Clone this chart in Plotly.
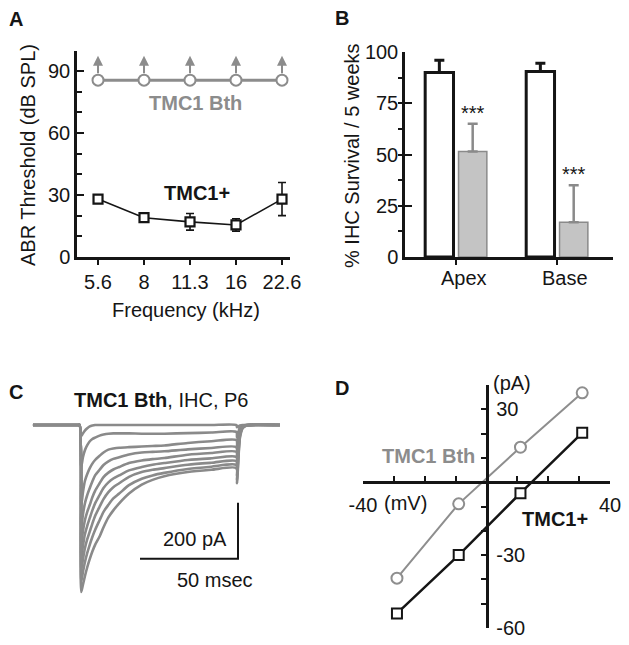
import plotly.graph_objects as go

W, H = 629, 645
FONT = "Liberation Sans, Arial, Helvetica, sans-serif"
GRAY = "#8c8c8c"
BLACK = "#151515"
FS = 20

# ---------------- data ----------------
# Panel A : ABR thresholds
freq_labels = ["5.6", "8", "11.3", "16", "22.6"]
tmc1_plus_thr = [28, 19, 17, 15.5, 28]
tmc1_plus_err = [2, 1, 4, 3, 8]
tmc1_bth_thr = [85.5, 85.5, 85.5, 85.5, 85.5]

# Panel B : IHC survival
regions = ["Apex", "Base"]
surv_plus = [90, 90.5]
surv_plus_err = [6, 4]
surv_bth = [51.5, 17]
surv_bth_err = [13.5, 18]
signif = ["***", "***"]

# Panel C : current traces (pA) sampled at these times (ms)
trace_t_ms = [-24, -1, -0.2, 0.6, 1.5, 2.5, 3.7, 5, 6.3, 7.7, 10, 12, 14.5, 17, 20,
              25, 31.5, 37, 43, 55, 67, 79.8, 80.1, 81.6, 83, 85, 102]
trace_1 = [0, 0, 0, -40, -30, -20, -12, -5, -2, 0, 0, 0, 0, 0, 0,
           0, 0, 0, 0, 0, 0, 0, -8, -2, 0, 0, 0]
trace_2 = [0, 0, 0, -150, -115, -90, -72, -58, -50, -45, -38, -34, -31, -30, -30,
           -30, -31, -31, -31, -29, -27, -25, -45, -8, -2, 0, 0]
trace_3 = [0, 0, 0, -290, -240, -200, -175, -154, -138, -125, -110, -98, -88, -84, -81,
           -79, -77, -75, -73, -64, -58, -54, -85, -14, -4, 0, 0]
trace_4 = [0, 0, 0, -370, -320, -280, -250, -225, -202, -180, -160, -143, -130, -121, -115,
           -105, -98, -96, -94, -87, -82, -79, -115, -20, -5, 0, 0]
trace_5 = [0, 0, 0, -430, -380, -340, -310, -285, -258, -235, -208, -186, -170, -159, -150,
           -136, -127, -122, -118, -106, -100, -96, -140, -25, -6, -1, 0]
trace_6 = [0, 0, 0, -480, -432, -390, -360, -332, -305, -280, -250, -225, -205, -191, -180,
           -162, -150, -142, -136, -125, -119, -114, -160, -30, -8, -1, 0]
trace_7 = [0, 0, 0, -520, -480, -440, -408, -380, -352, -325, -292, -265, -240, -222, -208,
           -185, -168, -160, -154, -142, -135, -129, -180, -35, -9, -1, 0]
trace_8 = [0, 0, 0, -560, -525, -490, -457, -427, -400, -375, -340, -310, -285, -262, -245,
           -215, -192, -180, -171, -157, -149, -143, -195, -40, -10, -2, 0]
trace_9 = [0, 0, 0, -596, -570, -540, -508, -478, -452, -428, -398, -365, -330, -305, -280,
           -245, -213, -196, -183, -168, -160, -154, -208, -46, -12, -2, 0]
current_traces = [trace_1, trace_2, trace_3, trace_4, trace_5, trace_6, trace_7, trace_8, trace_9]
scale_ms = 50
scale_pA = 200

# Panel D : I-V relations
iv_mv = [-29, -9, 11, 31]
iv_bth_pA = [-39.5, -8.9, 14.4, 36.8]
iv_plus_pA = [-54, -30, -4.5, 20.3]


# ---------------- helpers ----------------
def dom_x(left, right):
    return [left / W, right / W]


def dom_y(top, bottom):
    return [1 - bottom / H, 1 - top / H]


annotations = []


def label(text, xpx, ypx, size=FS, color=BLACK, angle=0, xanchor="center"):
    annotations.append(dict(text=text, x=xpx / W, y=1 - ypx / H, xref="paper", yref="paper",
                            showarrow=False, xanchor=xanchor, yanchor="middle",
                            textangle=angle, font=dict(family=FONT, size=size, color=color)))


fig = go.Figure()
cats = list(range(len(freq_labels)))

# ---------------- Panel A ----------------
fig.add_trace(go.Scatter(
    x=cats, y=tmc1_bth_thr, xaxis="x", yaxis="y", mode="lines+markers",
    line=dict(color=GRAY, width=3),
    marker=dict(symbol="circle", size=11, color="white", line=dict(color=GRAY, width=2))))
fig.add_trace(go.Scatter(
    x=cats, y=tmc1_plus_thr, xaxis="x", yaxis="y", mode="lines+markers",
    line=dict(color=BLACK, width=1.6),
    error_y=dict(type="data", array=tmc1_plus_err, color=BLACK, thickness=1.6, width=4),
    marker=dict(symbol="square", size=9, color="white", line=dict(color=BLACK, width=2.2))))
ARROW_TAIL, ARROW_TIP = 2.6, 11.8
for xi, yi in zip(cats, tmc1_bth_thr):
    annotations.append(dict(x=xi, y=yi + ARROW_TIP, ax=xi, ay=yi + ARROW_TAIL,
                            xref="x", yref="y", axref="x", ayref="y", text="",
                            showarrow=True, arrowhead=2, arrowsize=1, arrowwidth=2,
                            arrowcolor=GRAY, standoff=0, startstandoff=0))

# ---------------- Panel B ----------------
fig.add_trace(go.Bar(
    x=[0, 1], y=surv_plus, xaxis="x2", yaxis="y2",
    marker=dict(color="white", line=dict(color=BLACK, width=3)),
    error_y=dict(type="data", symmetric=False, array=surv_plus_err, arrayminus=[0, 0],
                 color=BLACK, thickness=3, width=5)))
fig.add_trace(go.Bar(
    x=[0, 1], y=surv_bth, xaxis="x2", yaxis="y2",
    marker=dict(color="#c4c4c4", line=dict(color="#8a8a8a", width=1.5)),
    error_y=dict(type="data", symmetric=False, array=surv_bth_err, arrayminus=[0, 0],
                 color="#8a8a8a", thickness=2.5, width=5)))
for i, (v, e, s) in enumerate(zip(surv_bth, surv_bth_err, signif)):
    annotations.append(dict(x=i + 0.165, y=v + e, xref="x2", yref="y2", text=s,
                            showarrow=False, yanchor="bottom", yshift=-2,
                            font=dict(family=FONT, size=FS, color=BLACK)))
for i, r in enumerate(regions):
    annotations.append(dict(x=i, y=0, xref="x2", yref="y2", text=r, showarrow=False,
                            yanchor="middle", yshift=-21, xshift=8,
                            font=dict(family=FONT, size=FS, color=BLACK)))

# ---------------- Panel C ----------------
for tr in current_traces:
    fig.add_trace(go.Scatter(
        x=trace_t_ms, y=tr, xaxis="x3", yaxis="y3", mode="lines",
        line=dict(color="#8a8a8a", width=2.6, shape="spline", smoothing=0.7)))
BAR_END_MS, BAR_TOP_PA = 80.6, -278
fig.add_trace(go.Scatter(
    x=[BAR_END_MS, BAR_END_MS, BAR_END_MS - scale_ms],
    y=[BAR_TOP_PA, BAR_TOP_PA - scale_pA, BAR_TOP_PA - scale_pA],
    xaxis="x3", yaxis="y3", mode="lines", line=dict(color=BLACK, width=2)))

# ---------------- Panel D ----------------
fig.add_trace(go.Scatter(
    x=iv_mv, y=iv_bth_pA, xaxis="x4", yaxis="y4", mode="lines+markers",
    line=dict(color="#8e8e8e", width=2),
    marker=dict(symbol="circle", size=11, color="white", line=dict(color="#8e8e8e", width=2))))
fig.add_trace(go.Scatter(
    x=iv_mv, y=iv_plus_pA, xaxis="x4", yaxis="y4", mode="lines+markers",
    line=dict(color=BLACK, width=2.5),
    marker=dict(symbol="square", size=10, color="white", line=dict(color=BLACK, width=2))))

# ---------------- axes ----------------
tick_font = dict(family=FONT, size=FS, color=BLACK)
common = dict(showgrid=False, zeroline=False, showline=True, linecolor=BLACK,
              linewidth=2.5, tickcolor=BLACK, tickwidth=2, tickfont=tick_font,
              automargin=False)

A_X = dict(domain=dom_x(77, 290), range=[-0.457, 4.174], anchor="y",
           tickmode="array", tickvals=cats, ticktext=freq_labels,
           ticks="outside", ticklen=5, **common)
A_Y = dict(domain=dom_y(51, 257), range=[0, 99.6], anchor="x",
           tickmode="array", tickvals=[0, 30, 60, 90], ticks="inside", ticklen=7,
           minor=dict(dtick=10, tick0=0, ticks="inside", ticklen=5, tickwidth=2, tickcolor=BLACK),
           **common)

B_X = dict(domain=dom_x(405, 613), range=[-0.505, 1.554], anchor="y2",
           tickmode="array", tickvals=[0, 1], ticktext=["", ""],
           ticks="outside", ticklen=5, **common)
B_Y = dict(domain=dom_y(52, 257), range=[0, 100], anchor="x2",
           tickmode="array", tickvals=[0, 25, 50, 75, 100], ticks="inside", ticklen=7,
           minor=dict(dtick=12.5, tick0=0, ticks="outside", ticklen=4, tickwidth=2, tickcolor=BLACK),
           **common)

C_X = dict(domain=dom_x(31, 285.8), range=[-25, 105], visible=False, anchor="y3")
C_Y = dict(domain=dom_y(416.6, 598.6), range=[-620, 30], visible=False, anchor="x3")

d_xr, d_yr = [-40, 40], [-60, 40]
d_xd, d_yd = dom_x(363, 610), dom_y(385, 628)
y_axis_pos = d_xd[0] + (0 - d_xr[0]) / (d_xr[1] - d_xr[0]) * (d_xd[1] - d_xd[0])
x_axis_pos = d_yd[0] + (0 - d_yr[0]) / (d_yr[1] - d_yr[0]) * (d_yd[1] - d_yd[0])
d_xticks = list(range(-40, 41, 10))
d_yticks = list(range(-60, 41, 10))
D_X = dict(domain=d_xd, range=d_xr, anchor="free", position=x_axis_pos,
           tickmode="array", tickvals=d_xticks,
           ticktext=[str(v) if abs(v) == 40 else "" for v in d_xticks],
           ticks="inside", ticklen=5, ticklabelstandoff=4, **common)
D_Y = dict(domain=d_yd, range=d_yr, anchor="free", position=y_axis_pos, side="right",
           tickmode="array", tickvals=d_yticks,
           ticktext=[str(v) if v in (-60, -30, 30) else "" for v in d_yticks],
           ticks="inside", ticklen=5, ticklabelstandoff=4, **common)

# ---------------- text labels ----------------
label("<b>A</b>", 16, 19)
label("<b>B</b>", 342, 18)
label("<b>C</b>", 16, 392)
label("<b>D</b>", 342, 388)

label("ABR Threshold (dB SPL)", 28, 155, angle=-90)
label("Frequency (kHz)", 186, 310)
label("<b>TMC1 Bth</b>", 195, 103, color=GRAY)
label("<b>TMC1+</b>", 197, 193)

label("% IHC Survival / 5 weeks", 352, 156, angle=-90)

label("<b>TMC1 Bth</b>, IHC, P6", 161, 400)
label("200 pA", 195, 539)
label("50 msec", 215, 580)

label("(pA)", 512, 383)
label("(mV)", 405, 503)
label("<b>TMC1 Bth</b>", 428, 456, color=GRAY)
label("<b>TMC1+</b>", 555, 519)

fig.update_layout(
    width=W, height=H, margin=dict(l=0, r=0, t=0, b=0, pad=0), autosize=False,
    paper_bgcolor="white", plot_bgcolor="rgba(0,0,0,0)",
    showlegend=False, barmode="group", bargap=0.34, bargroupgap=0.15,
    font=dict(family=FONT, size=FS, color=BLACK),
    xaxis=A_X, yaxis=A_Y, xaxis2=B_X, yaxis2=B_Y,
    xaxis3=C_X, yaxis3=C_Y, xaxis4=D_X, yaxis4=D_Y,
    annotations=annotations,
)

fig.write_html("out.html", config={"responsive": False, "displayModeBar": False},
               post_script="document.body.style.margin='0px';document.body.style.overflow='hidden';")
